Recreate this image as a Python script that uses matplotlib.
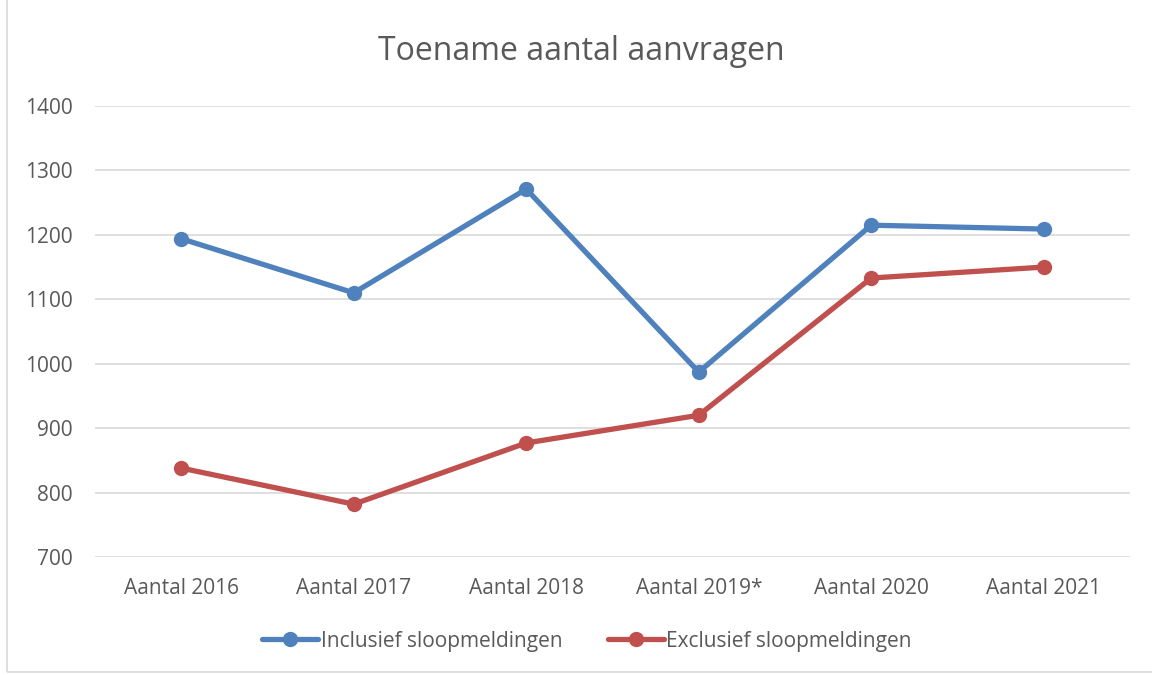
import matplotlib
matplotlib.use("Agg")
import matplotlib.pyplot as plt
from matplotlib.patches import Rectangle

categories = ["Aantal 2016", "Aantal 2017", "Aantal 2018", "Aantal 2019*", "Aantal 2020", "Aantal 2021"]
inclusief = [1194, 1110, 1271, 987, 1215, 1209]
exclusief = [838, 782, 877, 920, 1133, 1150]
yticks = [700, 800, 900, 1000, 1100, 1200, 1300, 1400]

plt.rcParams['font.family'] = ['Open Sans', 'DejaVu Sans']
txt = '#595959'

fig = plt.figure(figsize=(11.52, 6.75), dpi=100)
ax = fig.add_axes([95/1152, 1-557/675, (1130-95)/1152, (557-106)/675])

x = list(range(len(categories)))
ax.plot(x, inclusief, color='#4F81BD', lw=3.8, marker='o', ms=10, label='Inclusief sloopmeldingen', solid_capstyle='round')
ax.plot(x, exclusief, color='#C0504D', lw=3.8, marker='o', ms=10, label='Exclusief sloopmeldingen', solid_capstyle='round')

ax.set_xlim(-0.5, len(categories) - 0.5)
ax.set_ylim(700, 1400)
ax.set_yticks(yticks)
ax.set_xticks(x)
ax.set_xticklabels(categories)
ax.grid(axis='y', color='#D9D9D9', lw=1.2)
ax.set_axisbelow(True)
for s in ax.spines.values():
    s.set_visible(False)
ax.tick_params(axis='both', length=0, colors=txt, labelsize=15)
ax.tick_params(axis='y', pad=16)
ax.tick_params(axis='x', pad=15)

fig.text(581/1152, 1-52/675, "Toename aantal aanvragen", ha='center', va='center', fontsize=23, color=txt)

leg = ax.legend(loc='center', bbox_to_anchor=(587/1152, 1-641/675), bbox_transform=fig.transFigure,
                ncol=2, frameon=False, fontsize=15, handlelength=2.7, handletextpad=0.1, columnspacing=2.2)
for t in leg.get_texts():
    t.set_color(txt)

fig.patches.append(Rectangle((7/1152, 3/675), 1.2, 1.2, transform=fig.transFigure, fill=False, edgecolor='#D9D9D9', lw=1.2))

fig.savefig("out.png", dpi=100, facecolor='white')
